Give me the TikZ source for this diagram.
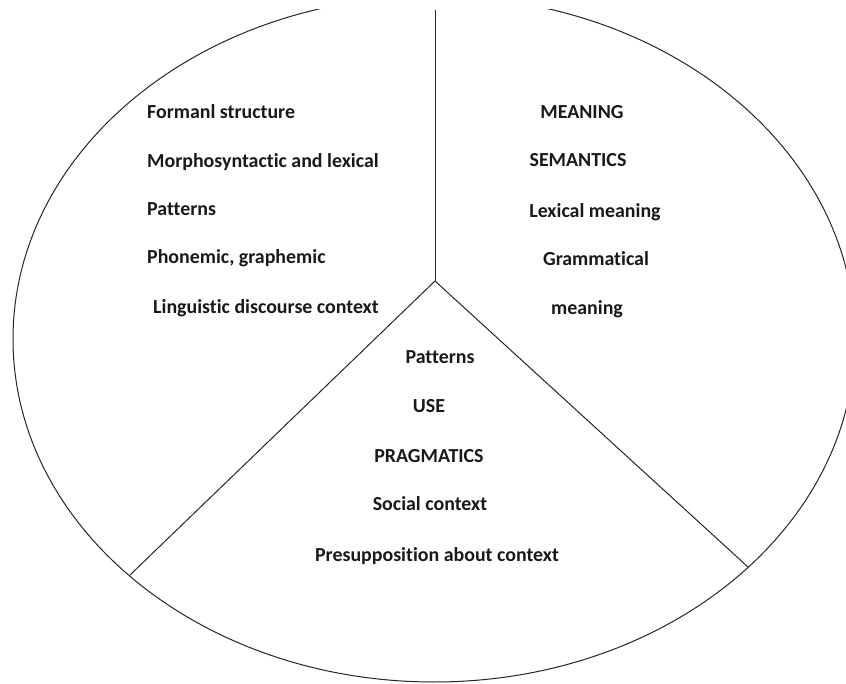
\documentclass[tikz,border=0pt]{standalone}
\usepackage{fontspec}
\setmainfont{Carlito}[Ligatures=NoCommon]
\begin{document}
\begin{tikzpicture}[x=1pt,y=-1pt,
  outline/.style={draw=black!85, line width=1pt},
  lbl/.style={font=\bfseries\fontsize{19.9}{22}\selectfont, inner sep=0pt, text=black!90}]
\useasboundingbox[fill=white] (0,0) rectangle (846,684);
\coordinate (c) at (435,281);
\coordinate (t) at (435,10);
\coordinate (l) at (130,575);
\coordinate (r) at (748,567);
\begin{scope}
  \clip (0,10) rectangle (846,684);
  \draw[outline] (434,339) ellipse [x radius=421, y radius=343];
\end{scope}
\draw[outline] (t) -- (c);
\draw[outline] (c) -- (l);
\draw[outline] (c) -- (r);
% left sector
\node[lbl, anchor=base west] (f1) at (147,119) {Formanl structure};
\node[lbl, anchor=base west] (f2) at (147,168) {Morphosyntactic and lexical};
\node[lbl, anchor=base west] (f3) at (147,216) {Patterns};
\node[lbl, anchor=base west] (f4) at (147,264) {Phonemic, graphemic};
\node[lbl, anchor=base west] (f5) at (153,314) {Linguistic discourse context};
% right sector
\node[lbl, anchor=base] (m1) at (582,119) {MEANING};
\node[lbl, anchor=base] (m2) at (578,167) {SEMANTICS};
\node[lbl, anchor=base] (m3) at (595,218) {Lexical meaning};
\node[lbl, anchor=base] (m4) at (596,266) {Grammatical};
\node[lbl, anchor=base] (m5) at (587,315) {meaning};
% bottom sector
\node[lbl, anchor=base] (u1) at (440,364) {Patterns};
\node[lbl, anchor=base] (u2) at (429,413) {USE};
\node[lbl, anchor=base] (u3) at (429,462) {PRAGMATICS};
\node[lbl, anchor=base] (u4) at (430,510) {Social context};
\node[lbl, anchor=base] (u5) at (437,561) {Presupposition about context};
\end{tikzpicture}
\end{document}
